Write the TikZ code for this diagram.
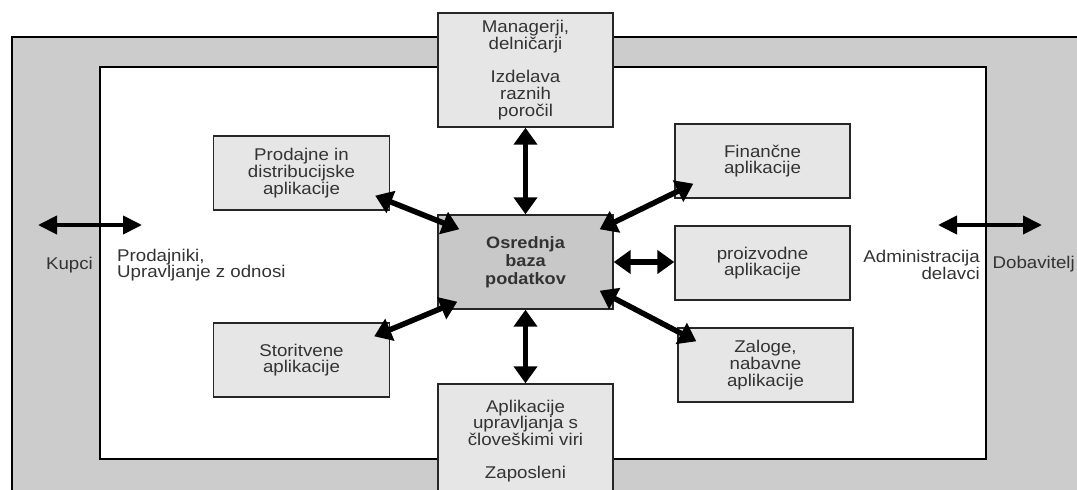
\documentclass[tikz,border=0pt]{standalone}
\usepackage{fontspec}
\setmainfont{Liberation Sans}[FakeStretch=1.1]
\usetikzlibrary{arrows.meta}
\definecolor{bandgray}{HTML}{CCCCCC}
\definecolor{boxgray}{HTML}{E6E6E6}
\definecolor{coregray}{HTML}{C8C8C8}
\definecolor{txtgray}{HTML}{333333}
\begin{document}
\begin{tikzpicture}
[   x=1pt,y=-1pt,
    appbox/.style={draw=black!85,line width=1.4pt,fill=#1,align=center,text=txtgray,
        font=\fontsize{17}{16.7}\selectfont,minimum width=176pt,minimum height=74pt,inner sep=2pt},
    dblarrow/.style={line width=5.5pt,{Triangle[length=17pt,width=23pt]}-{Triangle[length=17pt,width=23pt]}},
    sidearrow/.style={line width=4pt,{Triangle[length=19pt,width=18pt]}-{Triangle[length=19pt,width=18pt]}},
    sidetext/.style={text=txtgray,font=\fontsize{17}{16.7}\selectfont,inner sep=0pt},
]
    \useasboundingbox (0,0) rectangle (1077,490);
    % frames
    \draw[line width=1.8pt,fill=bandgray] (12,37) rectangle (1100,520);
    \draw[line width=1.8pt,fill=white] (100,67) rectangle (986,459);
    % boxes
    \node[appbox=boxgray,minimum width=175pt,minimum height=114pt] (mg) at (525.5,70)
        {Managerji,\\delničarji\\[16.7pt]Izdelava\\raznih\\poročil};
    \node[appbox=boxgray] (pd) at (301.5,173) {Prodajne in\\distribucijske\\aplikacije};
    \node[appbox=boxgray,minimum width=175pt] (fn) at (762.5,161) {Finančne\\aplikacije};
    \node[appbox=coregray,minimum width=175pt,minimum height=94pt,font=\fontsize{16.5}{18}\selectfont\bfseries] (c) at (525.5,262)
        {Osrednja\\baza\\podatkov};
    \node[appbox=boxgray,minimum width=175pt] (pz) at (762.5,263) {proizvodne\\aplikacije};
    \node[appbox=boxgray] (st) at (301.5,360) {Storitvene\\aplikacije};
    \node[appbox=boxgray,minimum width=175pt] (zl) at (765.5,365) {Zaloge,\\nabavne\\aplikacije};
    \node[appbox=boxgray,minimum width=175pt,minimum height=114pt] (hr) at (525.5,441)
        {Aplikacije\\upravljanja s\\človeškimi viri\\[16.7pt]Zaposleni};
    % side texts
    \node[sidetext] (kupci) at (69.5,265) {Kupci};
    \node[sidetext,anchor=west,align=left] (prod) at (117,265) {Prodajniki,\\Upravljanje z odnosi};
    \node[sidetext,anchor=east,align=right] (adm) at (980,265) {Administracija\\delavci};
    \node[sidetext,anchor=east] (dob) at (1075,264) {Dobavitelj};
    \coordinate (kl) at (38,225);
    \coordinate (kr) at (142,225);
    \coordinate (dl) at (938,225);
    \coordinate (dr) at (1042,225);
    % arrows
    \draw[sidearrow] (kl) -- (kr);
    \draw[sidearrow] (dl) -- (dr);
    \draw[dblarrow] (mg.south) -- (c.north);
    \draw[dblarrow] (c.south) -- (hr.north);
    \draw[dblarrow] ([shift={(-15,-15)}]pd.south east) -- ([shift={(22,15)}]c.north west);
    \draw[dblarrow] ([shift={(-16,14)}]st.north east) -- ([shift={(20,-8)}]c.south west);
    \draw[dblarrow] ([shift={(-14,15)}]c.north east) -- ([shift={(19,-15)}]fn.south west);
    \draw[dblarrow] (c.east) -- (c.east -| pz.west);
    \draw[dblarrow] ([shift={(-14,-19)}]c.south east) -- ([shift={(19,14)}]zl.north west);
\end{tikzpicture}
\end{document}
